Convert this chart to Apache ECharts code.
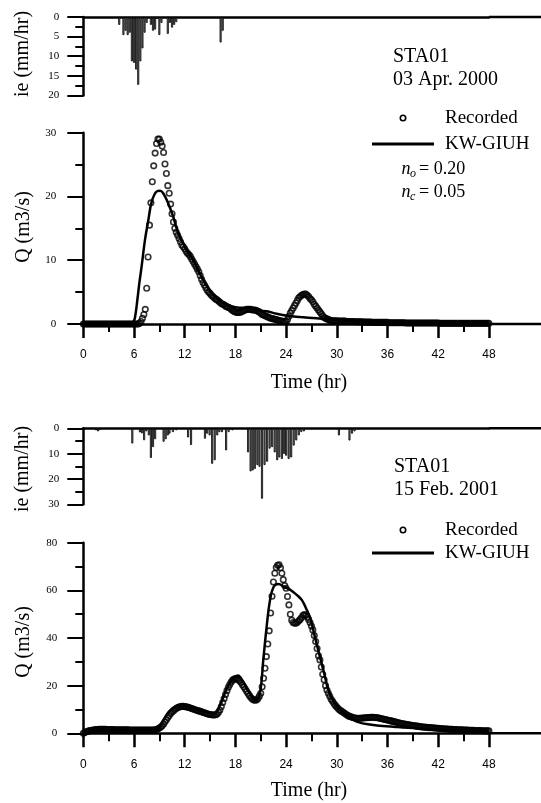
<!DOCTYPE html>
<html><head><meta charset="utf-8">
<script src="https://cdn.jsdelivr.net/npm/echarts@6/dist/echarts.min.js"></script>
<style>html,body{margin:0;padding:0;background:#fff}#c{width:541px;height:803px}</style>
</head><body><div id="c"></div>
<script>
// ---------- data ----------
const timeTicks = [0, 6, 12, 18, 24, 30, 36, 42, 48];
const recStep = 1 / 6; // recorded discharge every 10 minutes, one row per hour

// Event 1 : STA01 03 Apr. 2000
const hyeto1T = [4.25,4.75,5.0,5.25,5.5,5.75,6.0,6.25,6.5,6.75,7.0,7.25,7.5,8.0,8.25,8.5,8.75,9.0,9.25,10.0,10.25,10.5,10.75,11.0,16.25,16.5];
const hyeto1V = [2.0,4.6,3.5,4.6,4.0,11.3,11.7,13.4,17.3,11.3,8.0,4.0,1.5,2.0,3.5,3.2,0.5,4.6,1.5,4.3,1.5,2.7,2.0,1.3,6.5,3.5];
const rec1Q = [
 0,0,0,0,0,0, 0,0,0,0,0,0, 0,0,0,0,0,0, 0,0,0,0,0,0, 0,0,0,0,0,0, 0,0,0,0,0,0,
 0,0,0,0,0.1,0.4,
 0.9,1.5,2.3,5.6,10.5,15.5,
 19.0,22.3,24.8,26.8,28.3,29.0,
 29.0,28.5,27.9,26.9,25.1,23.6,
 21.7,20.5,18.8,17.3,16.0,15.0,
 14.4,13.9,13.4,12.9,12.4,12.1,
 11.8,11.4,11.1,10.9,10.6,10.2,
 9.8,9.4,9.0,8.6,8.2,7.6,
 7.0,6.5,6.1,5.7,5.3,5.0,
 4.8,4.5,4.3,4.1,3.9,3.8,
 3.6,3.4,3.2,3.1,3.0,2.8,
 2.7,2.6,2.5,2.3,2.1,2.0,
 1.9,1.8,1.8,1.8,1.9,2.0,
 2.1,2.2,2.3,2.3,2.3,2.3,
 2.2,2.2,2.2,2.1,2.0,1.9,
 1.7,1.5,1.4,1.3,1.2,1.1,
 1.0,0.9,0.85,0.8,0.75,0.7,
 0.6,0.55,0.5,0.45,0.4,0.4,
 0.4,0.7,1.2,1.7,2.1,2.5,
 2.9,3.3,3.7,4.1,4.3,4.5,
 4.6,4.7,4.7,4.5,4.3,4.0,
 3.8,3.5,3.1,2.8,2.5,2.2,
 1.9,1.6,1.3,1.0,0.9,0.8,
 0.7,0.6,0.55,0.5,0.5,0.5,
 0.5,0.45,0.45,0.45,0.45,0.45,
 0.45,0.4,0.4,0.4,0.4,0.4,
 0.4,0.35,0.35,0.35,0.35,0.35,
 0.35,0.3,0.3,0.3,0.3,0.3,
 0.3,0.25,0.25,0.25,0.25,0.25,
 0.25,0.25,0.25,0.25,0.25,0.25,
 0.25,0.2,0.2,0.2,0.2,0.2,
 0.2,0.2,0.2,0.2,0.2,0.2,
 0.2,0.15,0.15,0.15,0.15,0.15,
 0.15,0.15,0.15,0.15,0.15,0.15,
 0.15,0.15,0.15,0.15,0.15,0.15,
 0.15,0.15,0.15,0.15,0.15,0.15,
 0.15,0.1,0.1,0.1,0.1,0.1,
 0.1,0.1,0.1,0.1,0.1,0.1,
 0.1,0.1,0.1,0.1,0.1,0.1,
 0.1,0.1,0.1,0.1,0.1,0.1,
 0.1,0.1,0.1,0.1,0.1,0.1,
 0.1,0.1,0.1,0.1,0.1,0.1,
 0.1
];
const model1T = [0,5.5,5.9,6.1,6.4,6.63,6.9,7.3,7.7,8.1,8.7,9.1,9.55,10.05,10.65,11.25,12.25,13.0,13.6,14.2,14.8,15.4,16.6,18.15,19.7,20.9,21.7,22.9,24.1,25.7,27.6,29.6,31.5,33.9,38,42,48];
const model1Q = [0,0,0.3,0.9,3.8,6.4,9.0,13.2,16.3,19.2,20.8,20.9,20.3,18.9,16.8,14.2,11.6,10.0,8.4,6.9,5.6,4.6,3.3,2.6,2.5,2.1,2.0,1.6,1.3,1.1,0.9,0.7,0.5,0.3,0.2,0.15,0.1];

// Event 2 : STA01 15 Feb. 2001
const hyeto2T = [1.5,1.75,2.0,5.8,6.7,6.95,7.2,7.45,7.75,8.0,8.25,8.5,9.5,9.75,10.0,10.2,10.6,11.0,12.4,12.75,14.4,14.65,14.95,15.25,15.55,15.85,16.1,16.4,16.9,17.2,17.65,19.5,19.8,20.05,20.3,20.6,20.85,21.15,21.45,21.75,22.05,22.35,22.65,22.95,23.2,23.5,23.75,24.0,24.3,24.6,24.9,25.2,25.5,25.8,26.1,30.25,31.5,31.8,32.1];
const hyeto2V = [0.8,1.2,0.6,6.0,1.6,2.0,4.7,1.2,2.8,11.7,7.4,4.3,5.3,4.3,2.8,2.1,1.5,0.8,3.6,6.6,4.1,2.1,2.8,14.0,12.6,2.8,1.5,1.5,8.7,1.5,0.8,9.5,17.0,16.6,16.0,14.5,15.2,27.8,14.5,13.2,8.0,7.4,9.5,12.6,11.5,12.1,10.1,10.8,12.1,11.5,6.8,4.8,2.8,1.5,1.2,2.8,4.8,2.1,1.2];
const rec2Q = [
 0,0.3,0.6,0.8,1.0,1.2,
 1.3,1.4,1.5,1.6,1.6,1.7,
 1.7,1.7,1.7,1.7,1.7,1.6,
 1.6,1.6,1.6,1.6,1.5,1.5,
 1.5,1.5,1.5,1.5,1.5,1.5,
 1.5,1.5,1.5,1.4,1.4,1.4,
 1.4,1.4,1.4,1.4,1.4,1.4,
 1.4,1.4,1.4,1.4,1.4,1.4,
 1.4,1.4,1.4,1.5,1.6,1.9,
 2.2,2.6,3.2,3.9,4.8,5.7,
 6.6,7.5,8.3,8.9,9.5,10.0,
 10.4,10.8,11.0,11.2,11.3,11.3,
 11.2,11.1,11.0,10.8,10.6,10.4,
 10.2,10.0,9.8,9.6,9.4,9.2,
 9.0,8.8,8.6,8.4,8.2,8.0,
 7.9,7.8,7.7,7.7,7.8,8.1,
 8.8,9.8,11.2,12.9,14.6,16.3,
 17.9,19.3,20.5,21.5,22.3,22.8,
 22.9,22.8,22.5,22.0,21.3,20.4,
 19.5,18.6,17.6,16.7,15.8,15.0,
 14.4,14.0,13.9,14.0,14.6,15.6,
 16.8,19.5,23.1,27.3,32.2,37.5,
 43.0,50.5,57.5,63.5,67.2,69.6,
 70.5,70.7,69.5,67.2,64.5,62.0,
 60.9,57.4,53.9,50.0,47.5,46.5,
 46.2,46.2,46.6,47.2,47.8,48.6,
 49.5,49.8,49.5,48.8,47.8,46.5,
 45.0,43.4,41.0,38.5,35.6,32.5,
 30.8,27.8,24.8,22.5,20.0,18.2,
 16.8,15.5,14.3,13.4,12.5,11.7,
 11.0,10.4,9.8,9.4,9.0,8.6,
 8.2,7.8,7.4,7.1,6.9,6.7,
 6.5,6.4,6.3,6.3,6.3,6.3,
 6.4,6.4,6.5,6.5,6.6,6.6,
 6.7,6.7,6.7,6.6,6.6,6.5,
 6.4,6.2,6.1,6.0,5.8,5.7,
 5.6,5.4,5.3,5.1,5.0,4.8,
 4.7,4.5,4.4,4.2,4.1,4.0,
 3.9,3.8,3.7,3.6,3.5,3.4,
 3.3,3.2,3.1,3.0,2.9,2.8,
 2.7,2.6,2.6,2.5,2.5,2.4,
 2.4,2.3,2.3,2.2,2.2,2.1,
 2.1,2.0,2.0,1.9,1.9,1.8,
 1.8,1.8,1.7,1.7,1.7,1.6,
 1.6,1.6,1.5,1.5,1.5,1.5,
 1.4,1.4,1.4,1.4,1.3,1.3,
 1.3,1.3,1.2,1.2,1.2,1.2,
 1.2,1.1,1.1,1.1,1.1,1.0,
 1.0
];
const model2T = [0,0.5,1,2,3,5,8,8.7,9.1,9.5,10.25,11.25,12.0,13.0,14.0,15.0,15.5,16.2,17.0,17.75,18.3,18.9,19.7,20.4,20.9,21.3,21.7,22.1,22.55,23.1,23.7,24.5,25.25,25.85,26.35,26.85,27.4,28.0,28.5,29.0,29.6,30.4,31.2,32.35,34.3,36.7,39.5,43.4,48];
const model2Q = [0,0.8,1.3,1.7,1.6,1.5,1.5,1.6,3.0,5.6,9.5,11.6,11.6,10.6,9.4,8.6,8.4,11.9,18.9,23.1,24.3,21.7,16.8,14.0,16.8,30.8,44.8,56,61.6,62.7,61.6,60.2,58.1,56,52.5,48.3,40.6,32.2,25.2,18.2,13.3,9.8,7.7,4.9,3.5,2.8,2.1,1.4,1.0];

// ---------- layout ----------
const SERIF = '"Liberation Serif", "Times New Roman", serif';
const SANS = '"Liberation Sans", Arial, sans-serif';
const L = 83.3, W = 405.6;
const grids = [
  {left: L, top: 17, width: W, height: 78.4},
  {left: L, top: 132.7, width: W, height: 191.3},
  {left: L, top: 428.3, width: W, height: 76},
  {left: L, top: 542.7, width: W, height: 190.6}
];
const AX = {color: '#000', width: 2.5};
const pairs = (T, V) => T.map((t, i) => [t, V[i]]);
const recPairs = Q => Q.map((q, i) => [i * recStep, q]);

function xAx(g, showTicks) {
  return {
    type: 'value', gridIndex: g, min: 0, max: 48, interval: 6,
    position: showTicks ? 'bottom' : 'top',
    axisLine: {show: true, onZero: false, lineStyle: AX},
    axisTick: {show: showTicks, length: 14, lineStyle: {color: '#000', width: 2.5}},
    minorTick: {show: showTicks, splitNumber: 2, length: 8, lineStyle: {color: '#000', width: 2}},
    axisLabel: {show: showTicks, margin: 25, fontFamily: SANS, fontSize: 12, color: '#000',
      customValues: timeTicks},
    splitLine: {show: false}, minorSplitLine: {show: false}
  };
}
function yAx(g, max, interval, inverse, margin) {
  return {
    type: 'value', gridIndex: g, min: 0, max: max, interval: interval, inverse: inverse,
    axisLine: {show: true, onZero: false, lineStyle: AX},
    axisTick: {show: true, length: 16, lineStyle: {color: '#000', width: 2}},
    minorTick: {show: true, splitNumber: 2, length: 8, lineStyle: {color: '#000', width: 2}},
    axisLabel: {margin: margin, fontFamily: SERIF, fontSize: 11, color: '#000'},
    splitLine: {show: false}, minorSplitLine: {show: false}
  };
}
const barStyle = {color: '#7a7a7a', borderColor: '#000', borderWidth: 0.8};
const recStyle = {color: 'rgba(255,255,255,0)', borderColor: '#000', borderWidth: 1.6};

function txt(x, y, s, opt) {
  return Object.assign({type: 'text', x: x, y: y, silent: true,
    style: Object.assign({text: s, fill: '#000', font: '20px ' + SERIF,
      textAlign: 'left', textVerticalAlign: 'middle'}, opt || {})});
}
function vtxt(x, y, s) {
  return {type: 'text', x: x, y: y, rotation: Math.PI / 2, silent: true,
    style: {text: s, fill: '#000', font: '20px ' + SERIF, textAlign: 'center', textVerticalAlign: 'middle'}};
}
function hline(x1, x2, y, w) {
  return {type: 'line', silent: true, shape: {x1: x1, y1: y, x2: x2, y2: y},
    style: {stroke: '#000', lineWidth: w}};
}
function legend(yRec, yMod) {
  return [
    {type: 'circle', silent: true, shape: {cx: 403, cy: yRec, r: 2.7}, style: {fill: 'none', stroke: '#000', lineWidth: 1.6}},
    txt(445, yRec, 'Recorded', {font: '19px ' + SERIF}),
    hline(372, 434, yMod, 3),
    txt(445, yMod, 'KW-GIUH', {font: '19px ' + SERIF})
  ];
}
const xR = L + W;
const graphic = [].concat(
  // axis line extensions to the right edge
  grids.map((g, i) => hline(xR, 541, i % 2 === 0 ? g.top : g.top + g.height, 2.5)),
  [
    vtxt(23, 54, 'ie (mm/hr)'), vtxt(24, 227, 'Q (m3/s)'), txt(309, 383, 'Time (hr)', {textAlign: 'center'}),
    vtxt(23, 469, 'ie (mm/hr)'), vtxt(24, 642, 'Q (m3/s)'), txt(309, 791, 'Time (hr)', {textAlign: 'center'}),
    txt(393, 57, 'STA01'), txt(393, 80, '03 Apr. 2000'),
    txt(394, 467, 'STA01'), txt(394, 490, '15 Feb. 2001'),
    txt(401.5, 169, 'n', {font: 'italic 18px ' + SERIF}),
    txt(410, 174, 'o', {font: 'italic 12px ' + SERIF}),
    txt(419, 169, '= 0.20', {font: '18px ' + SERIF}),
    txt(401.5, 192, 'n', {font: 'italic 18px ' + SERIF}),
    txt(410, 197, 'c', {font: 'italic 12px ' + SERIF}),
    txt(419, 192, '= 0.05', {font: '18px ' + SERIF})
  ],
  legend(118, 144), legend(530, 553)
);

const option = {
  animation: false,
  backgroundColor: '#fff',
  grid: grids.map(g => Object.assign({containLabel: false, outerBoundsMode: 'none'}, g)),
  xAxis: [xAx(0, false), xAx(1, true), xAx(2, false), xAx(3, true)],
  yAxis: [yAx(0, 20, 5, true, 24), yAx(1, 30, 10, false, 27), yAx(2, 30, 10, true, 24), yAx(3, 80, 20, false, 26)],
  series: [
    {type: 'bar', xAxisIndex: 0, yAxisIndex: 0, barWidth: 2, data: pairs(hyeto1T, hyeto1V), itemStyle: barStyle},
    {type: 'scatter', xAxisIndex: 1, yAxisIndex: 1, symbol: 'circle', symbolSize: 5.5, data: recPairs(rec1Q), itemStyle: recStyle},
    {type: 'line', xAxisIndex: 1, yAxisIndex: 1, smooth: 0.4, showSymbol: false, data: pairs(model1T, model1Q), lineStyle: {color: '#000', width: 2.5}},
    {type: 'bar', xAxisIndex: 2, yAxisIndex: 2, barWidth: 2, data: pairs(hyeto2T, hyeto2V), itemStyle: barStyle},
    {type: 'scatter', xAxisIndex: 3, yAxisIndex: 3, symbol: 'circle', symbolSize: 5.5, data: recPairs(rec2Q), itemStyle: recStyle},
    {type: 'line', xAxisIndex: 3, yAxisIndex: 3, smooth: 0.4, showSymbol: false, data: pairs(model2T, model2Q), lineStyle: {color: '#000', width: 2.5}}
  ],
  graphic: graphic
};
const chart = echarts.init(document.getElementById('c'), null, {renderer: 'canvas'});
chart.setOption(option);
</script>
</body></html>
